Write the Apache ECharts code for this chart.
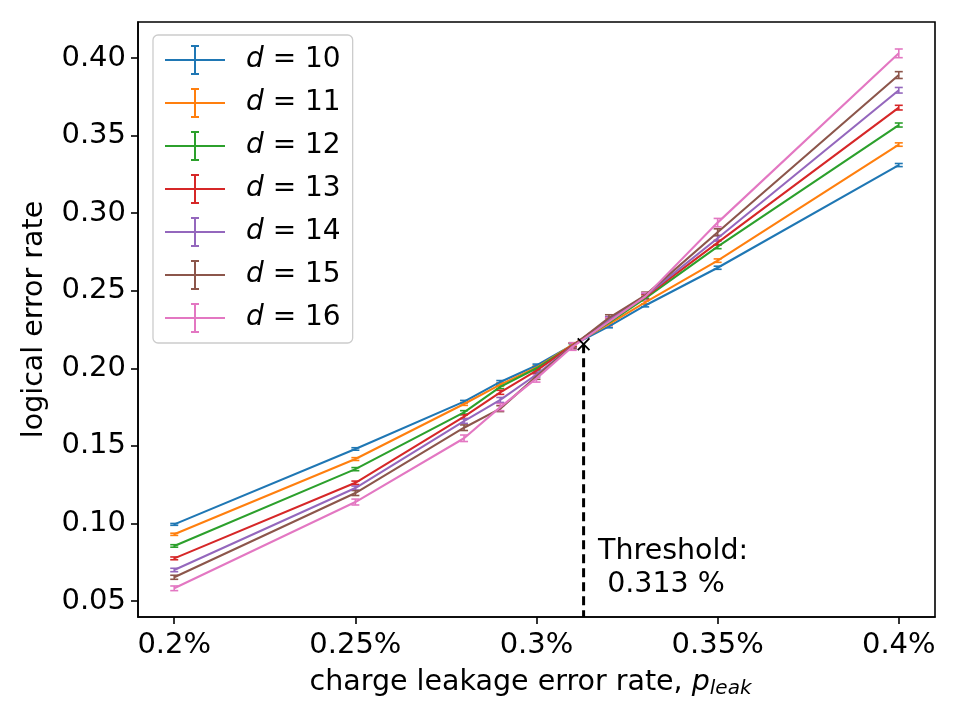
<!DOCTYPE html>
<html>
<head>
<meta charset="utf-8">
<script src="https://cdn.jsdelivr.net/npm/echarts@6/dist/echarts.min.js"></script>
<style>
  html, body { margin: 0; padding: 0; background: #fff; }
  #chart { width: 960px; height: 720px; }
</style>
</head>
<body>
<div id="chart"></div>
<script>
// leakage rates (in %)
const pLeak = [0.2, 0.25, 0.28, 0.29, 0.30, 0.31, 0.32, 0.33, 0.35, 0.4]

const distances = [10, 11, 12, 13, 14, 15, 16]

// logical error rate, one row per distance
const rateD10 = [0.0994, 0.1480, 0.1785, 0.1912, 0.2018, 0.2150, 0.2270, 0.2405, 0.2648, 0.3310]
const rateD11 = [0.0930, 0.1415, 0.1770, 0.1895, 0.2005, 0.2152, 0.2285, 0.2425, 0.2694, 0.3442]
const rateD12 = [0.0855, 0.1350, 0.1716, 0.1880, 0.2000, 0.2148, 0.2295, 0.2450, 0.2784, 0.3568]
const rateD13 = [0.0775, 0.1262, 0.1688, 0.1845, 0.1985, 0.2150, 0.2310, 0.2460, 0.2810, 0.3680]
const rateD14 = [0.0700, 0.1228, 0.1660, 0.1796, 0.1960, 0.2145, 0.2315, 0.2465, 0.2838, 0.3792]
const rateD15 = [0.0653, 0.1196, 0.1617, 0.1740, 0.1948, 0.2145, 0.2325, 0.2470, 0.2877, 0.3890]
const rateD16 = [0.0582, 0.1138, 0.1549, 0.1750, 0.1935, 0.2140, 0.2300, 0.2462, 0.2939, 0.4030]

// error bar half heights
const errD10 = [0.0006, 0.0008, 0.0008, 0.0009, 0.0009, 0.0009, 0.0009, 0.0009, 0.0010, 0.0010]
const errD11 = [0.0007, 0.0009, 0.0009, 0.0010, 0.0010, 0.0010, 0.0010, 0.0010, 0.0011, 0.0011]
const errD12 = [0.0008, 0.0010, 0.0011, 0.0011, 0.0011, 0.0011, 0.0012, 0.0012, 0.0013, 0.0013]
const errD13 = [0.0009, 0.0011, 0.0012, 0.0013, 0.0013, 0.0013, 0.0014, 0.0014, 0.0015, 0.0015]
const errD14 = [0.0011, 0.0013, 0.0015, 0.0016, 0.0016, 0.0016, 0.0017, 0.0017, 0.0018, 0.0018]
const errD15 = [0.0013, 0.0016, 0.0018, 0.0019, 0.0019, 0.0020, 0.0020, 0.0021, 0.0022, 0.0022]
const errD16 = [0.0015, 0.0019, 0.0021, 0.0023, 0.0024, 0.0024, 0.0025, 0.0025, 0.0027, 0.0028]

const rates = [rateD10, rateD11, rateD12, rateD13, rateD14, rateD15, rateD16]
const errs = [errD10, errD11, errD12, errD13, errD14, errD15, errD16]

const xTicks = [0.2, 0.25, 0.3, 0.35, 0.4]
const xTickLabels = ['0.2%', '0.25%', '0.3%', '0.35%', '0.4%']
const yTicks = [0.05, 0.10, 0.15, 0.20, 0.25, 0.30, 0.35, 0.40]
const yTickLabels = ['0.05', '0.10', '0.15', '0.20', '0.25', '0.30', '0.35', '0.40']

// threshold annotation
const thresholdX = 0.313
const thresholdY = 0.2155
const thresholdText = 'Threshold:\n 0.313 %'
const thresholdTextPos = [0.317, 0.05]

const colors = ['#1f77b4', '#ff7f0e', '#2ca02c', '#d62728', '#9467bd', '#8c564b', '#e377c2']
const FONT = 'DejaVu Sans'
const X_MIN = 0.19, X_MAX = 0.41
const Y_MIN = 0.0397, Y_MAX = 0.4232

// errorbar-looking legend icon
const legendIcon = 'path://M0,14L60,14L60,16L0,16Z M29,0L31,0L31,30L29,30Z M26,0L34,0L34,2L26,2Z M26,28L34,28L34,30L26,30Z'
const crossIcon = 'path://M0,1L1,0L10,9L9,10Z M9,0L10,1L1,10L0,9Z'

function tickLabel(ticks, labels) {
  return function (v) {
    let best = 0
    ticks.forEach((t, i) => { if (Math.abs(t - v) < Math.abs(ticks[best] - v)) best = i })
    return labels[best]
  }
}

function errorBarItem(params, api) {
  const x = api.value(0)
  const lo = api.coord([x, api.value(1)])
  const hi = api.coord([x, api.value(2)])
  const cap = 4
  const style = { stroke: api.visual('color'), lineWidth: 1.6 }
  return {
    type: 'group',
    children: [
      { type: 'line', shape: { x1: lo[0], y1: lo[1], x2: hi[0], y2: hi[1] }, style },
      { type: 'line', shape: { x1: lo[0] - cap, y1: lo[1], x2: lo[0] + cap, y2: lo[1] }, style },
      { type: 'line', shape: { x1: hi[0] - cap, y1: hi[1], x2: hi[0] + cap, y2: hi[1] }, style }
    ]
  }
}

function buildSeries() {
  const series = []
  distances.forEach((d, k) => {
    series.push({
      name: 'd = ' + d,
      type: 'line',
      showSymbol: false,
      symbol: 'none',
      color: colors[k],
      lineStyle: { width: 2.1, color: colors[k] },
      data: pLeak.map((x, i) => [x, rates[k][i]]),
      z: 3
    })
    series.push({
      name: 'err ' + d,
      type: 'custom',
      color: colors[k],
      renderItem: errorBarItem,
      data: pLeak.map((x, i) => [x, rates[k][i] - errs[k][i], rates[k][i] + errs[k][i]]),
      z: 3
    })
  })
  series.push({
    name: 'threshold',
    type: 'line',
    color: '#000',
    lineStyle: { color: '#000', width: 3, type: [9, 5] },
    data: [
      { value: [thresholdX, thresholdY], symbol: crossIcon, symbolSize: 13 },
      { value: [thresholdX, Y_MIN], symbol: 'none' }
    ],
    itemStyle: { color: '#000' },
    z: 4,
    markPoint: {
      symbol: 'circle',
      symbolSize: 0,
      data: [{ coord: thresholdTextPos }],
      label: {
        show: true,
        formatter: thresholdText,
        position: [0, 0],
        align: 'left',
        verticalAlign: 'bottom',
        color: '#000',
        fontFamily: FONT,
        fontSize: 28.5,
        lineHeight: 33
      }
    }
  })
  return series
}

function setOptions() {
  return {
    animation: false,
    backgroundColor: '#fff',
    grid: {
      left: 138,
      right: 25,
      top: 22,
      bottom: 103,
      show: true,
      borderColor: '#000',
      borderWidth: 1.6,
      backgroundColor: 'transparent'
    },
    legend: {
      orient: 'vertical',
      left: 153,
      top: 35,
      data: distances.map(d => 'd = ' + d),
      icon: legendIcon,
      itemWidth: 60,
      itemHeight: 30,
      itemGap: 13,
      padding: [10, 12, 10, 12],
      backgroundColor: 'rgba(255,255,255,0.85)',
      borderColor: '#cccccc',
      borderWidth: 1.3,
      borderRadius: 5,
      formatter: name => '{i|d} = ' + name.split('= ')[1],
      textStyle: {
        color: '#000',
        fontFamily: FONT,
        fontSize: 28,
        padding: [0, 0, 0, 16],
        rich: {
          i: { fontStyle: 'italic', fontFamily: FONT, fontSize: 28, color: '#000' }
        }
      }
    },
    xAxis: {
      type: 'value',
      min: X_MIN,
      max: X_MAX,
      name: 'charge leakage error rate, {i|p}{s|leak}',
      nameLocation: 'middle',
      nameGap: 50,
      nameTextStyle: {
        color: '#000',
        fontFamily: FONT,
        fontSize: 28.5,
        padding: [0, 12, 0, 0],
        rich: {
          i: { fontStyle: 'italic', fontFamily: FONT, fontSize: 28.5, color: '#000' },
          s: { fontStyle: 'italic', fontFamily: FONT, fontSize: 20, color: '#000', padding: [12, 0, 0, 0] }
        }
      },
      splitLine: { show: false },
      axisLine: { show: true, onZero: false, lineStyle: { color: '#000', width: 1.6 } },
      axisTick: { show: true, length: 7, customValues: xTicks, lineStyle: { color: '#000', width: 1.6 } },
      axisLabel: {
        customValues: xTicks,
        formatter: tickLabel(xTicks, xTickLabels),
        margin: 14,
        color: '#000',
        fontFamily: FONT,
        fontSize: 29
      }
    },
    yAxis: {
      type: 'value',
      min: Y_MIN,
      max: Y_MAX,
      name: 'logical error rate',
      nameLocation: 'middle',
      nameGap: 89,
      nameTextStyle: { color: '#000', fontFamily: FONT, fontSize: 28.5 },
      splitLine: { show: false },
      axisLine: { show: true, onZero: false, lineStyle: { color: '#000', width: 1.6 } },
      axisTick: { show: true, length: 7, customValues: yTicks, lineStyle: { color: '#000', width: 1.6 } },
      axisLabel: {
        customValues: yTicks,
        formatter: tickLabel(yTicks, yTickLabels),
        margin: 12,
        color: '#000',
        fontFamily: FONT,
        fontSize: 29
      }
    },
    series: buildSeries()
  }
}

const chart = echarts.init(document.getElementById('chart'), null, { renderer: 'canvas' })
chart.setOption(setOptions())
</script>
</body>
</html>
